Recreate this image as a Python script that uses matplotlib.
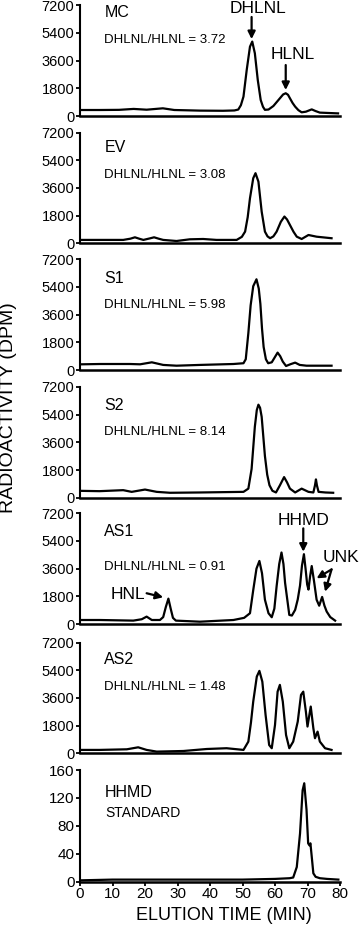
import matplotlib.pyplot as plt

plt.rcParams['font.family'] = ['Liberation Sans', 'DejaVu Sans']

# elution time (min) / radioactivity (DPM)
mc_t = [0.5, 6, 12, 16.5, 20.5, 25.5, 29, 37, 44, 47.5, 48.7, 49.5, 50.3, 51.3, 52.3, 53.0, 53.8, 54.7, 55.6,
        56.3, 56.9, 58.0, 59.5, 61.5, 62.5, 63.3, 64.0, 64.6, 65.4, 66.2, 67.2, 68.2, 69.5, 71.3, 72.5, 73.8, 76, 79.4]
mc_v = [390, 390, 400, 460, 410, 500, 390, 350, 340, 360, 420, 700, 1260, 3000, 4510, 4840, 4080, 2340, 1040,
        600, 400, 420, 650, 1150, 1400, 1480, 1380, 1150, 850, 610, 380, 240, 280, 430, 320, 220, 200, 170]

ev_t = [0.5, 8, 13.3, 15.5, 16.9, 18.2, 19.5, 21.5, 22.8, 24.2, 25.6, 29.7, 33.8, 37.9, 42, 48.2, 49.8, 50.8,
        51.6, 52.3, 53.3, 54.0, 54.9, 55.9, 56.9, 57.7, 58.5, 59.5, 60.5, 61.8, 62.9, 63.7, 64.6, 65.7, 66.7, 68.2,
        70.3, 72.8, 77.4]
ev_v = [220, 220, 220, 300, 390, 300, 220, 320, 390, 300, 220, 150, 260, 280, 220, 220, 420, 760,
        1700, 2930, 4230, 4560, 4010, 2060, 760, 450, 330, 450, 760, 1400, 1740, 1550, 1190, 750, 430, 280,
        540, 430, 330]

s1_t = [0.5, 6.2, 15.4, 18.5, 22.1, 25.6, 29.7, 36.9, 47.2, 50.3, 51.0, 51.8, 52.5, 53.3, 54.3, 55.0, 55.5,
        56.0, 56.5, 57.2, 57.9, 59.0, 60.0, 60.8, 61.6, 62.4, 63.4, 64.8, 66.2, 67.6, 69.7, 77.4]
s1_v = [370, 390, 390, 370, 500, 330, 280, 330, 390, 440, 700, 2400, 4200, 5450, 5900, 5300, 4300,
        2700, 1500, 700, 440, 500, 850, 1130, 900, 545, 260, 380, 480, 330, 280, 280]

s2_t = [0.5, 6, 13.3, 15.9, 20, 23.6, 27.7, 36.9, 50.3, 51.8, 52.8, 53.8, 54.4, 54.9, 55.4, 55.9, 56.9, 57.6,
        58.3, 59.2, 60.3, 61.5, 62.8, 63.7, 64.6, 66.2, 68.2, 70.3, 71.8, 72.3, 72.6, 72.9, 73.4, 75.5, 77.9]
s2_v = [445, 425, 490, 380, 530, 380, 320, 340, 380, 590, 1870, 4620, 5700, 6050, 5850, 5260, 2710, 1500,
        810, 450, 340, 800, 1340, 1000, 590, 340, 590, 380, 340, 800, 1190, 800, 380, 340, 320]

as1_t = [0.5, 6, 16.4, 19.0, 20.5, 22.1, 24.6, 25.6, 26.4, 27.2, 27.9, 28.6, 29.5, 36.9, 47.2, 50.5, 52.3,
         53.3, 54.3, 55.2, 56.0, 56.9, 58.0, 59.0, 59.8, 60.5, 61.3, 62.0, 62.6, 63.1, 64.4, 65.2, 66.2, 67.0,
         67.7, 68.3, 68.9, 69.4, 69.9, 70.3, 70.8, 71.3, 72.0, 72.8, 73.6, 74.5, 75.2, 75.9, 77.0, 78.5]
as1_v = [260, 260, 220, 310, 480, 260, 260, 450, 1100, 1650, 1000, 400, 220, 150, 260, 400, 700,
         2200, 3600, 4100, 3300, 1580, 700, 440, 1000, 2460, 3900, 4650, 3900, 2680, 590, 550, 920, 1600,
         2500, 3800, 4540, 3600, 2570, 2240, 3100, 3770, 2800, 1580, 1190, 1760, 1200, 810, 450, 220]

as2_t = [0.5, 6, 14.4, 17.9, 20.5, 23.6, 31.8, 39, 45.1, 50.3, 51.8, 52.6, 53.3, 54.4, 55.2, 56.1, 57.1, 58.2,
         59.0, 60.0, 60.8, 61.5, 62.4, 63.4, 64.4, 65.6, 67.0, 68.0, 68.7, 69.5, 70.0, 70.5, 71.0, 71.8, 72.3,
         73.1, 73.8, 75.4, 77.4]
as2_v = [220, 220, 260, 390, 220, 110, 150, 280, 330, 220, 760, 2000, 3360, 4990, 5360, 4660, 2500, 540,
         330, 1840, 4010, 4450, 3360, 1190, 330, 760, 2060, 3800, 4010, 2710, 1740, 2400, 3040, 1630, 980,
         1410, 760, 330, 220]

std_t = [0.5, 10, 20, 30, 40, 50, 60, 64.5, 65.6, 66.7, 67.7, 68.5, 69.0, 69.7, 70.2, 70.6, 70.9, 71.3,
         71.8, 72.5, 73.8, 76, 79.5]
std_v = [2, 3, 3, 3, 3, 3, 4, 5, 6, 21, 69, 131, 141, 103, 55, 52, 55, 36, 12, 7, 5, 4, 3]

names = ['MC', 'EV', 'S1', 'S2', 'AS1', 'AS2']
ratios = ['3.72', '3.08', '5.98', '8.14', '0.91', '1.48']
yticks = [0, 1800, 3600, 5400, 7200]
std_yticks = [0, 40, 80, 120, 160]
xticks = [0, 10, 20, 30, 40, 50, 60, 70, 80]

series = [(mc_t, mc_v), (ev_t, ev_v), (s1_t, s1_v), (s2_t, s2_v), (as1_t, as1_v), (as2_t, as2_v)]
# pixel row of the zero line for each panel (from top)
zero_rows = [116, 243.3, 370, 497.7, 624, 753.3]
name_y = [6730, 6230, 5960, 5980, 6000, 6130]
ratio_y = [4940, 4440, 4230, 4290, 3730, 4330]

W, H = 360, 930
fig = plt.figure(figsize=(W / 100, H / 100), dpi=100)

def style(ax):
    for s in ['top', 'right']:
        ax.spines[s].set_visible(False)
    ax.spines['left'].set_linewidth(1.5)
    ax.spines['bottom'].set_linewidth(1.8)
    ax.tick_params(axis='y', direction='out', length=3, width=1.3, pad=1, labelsize=10.5)

axes = []
for i in range(6):
    ax = fig.add_axes([80 / W, 1 - zero_rows[i] / H, 260 / W, 110.7 / H])
    t, v = series[i]
    ax.plot(t, v, color='black', lw=1.6, solid_joinstyle='round')
    ax.set_xlim(0, 80)
    ax.set_ylim(0, 7200)
    ax.set_yticks(yticks)
    ax.set_xticks([])
    style(ax)
    ax.text(7.5, name_y[i], names[i], fontsize=11.5, va='center', ha='left')
    ax.text(7.5, ratio_y[i], 'DHLNL/HLNL = ' + ratios[i], fontsize=9.5, va='center', ha='left')
    axes.append(ax)

# standard panel
ax = fig.add_axes([80 / W, 1 - 881.7 / H, 260 / W, 111.7 / H])
ax.plot(std_t, std_v, color='black', lw=1.6, solid_joinstyle='round')
ax.set_xlim(0, 80)
ax.set_ylim(0, 160)
ax.set_yticks(std_yticks)
ax.set_xticks(xticks)
style(ax)
ax.tick_params(axis='y', labelsize=11)
ax.tick_params(axis='x', direction='out', length=3, width=1.3, pad=1, labelsize=11)
ax.text(7.7, 128, 'HHMD', fontsize=11.5, va='center', ha='left')
ax.text(7.7, 99, 'STANDARD', fontsize=10, va='center', ha='left')

arrow = dict(arrowstyle='-|>', lw=1.6, color='black', mutation_scale=11, shrinkA=0, shrinkB=0)

# MC arrows
ax = axes[0]
ax.text(54.9, 6960, 'DHLNL', fontsize=12.5, ha='center', va='center')
ax.annotate('', xy=(52.8, 5000), xytext=(52.8, 6440), arrowprops=arrow)
ax.text(65.4, 4030, 'HLNL', fontsize=12.5, ha='center', va='center')
ax.annotate('', xy=(63.3, 1690), xytext=(63.3, 3315), arrowprops=arrow)

# AS1 arrows
ax = axes[4]
ax.text(68.9, 6760, 'HHMD', fontsize=12.5, ha='center', va='center')
ax.annotate('', xy=(68.7, 4700), xytext=(68.7, 6220), arrowprops=arrow)
ax.text(80.3, 4320, 'UNK', fontsize=12.5, ha='center', va='center', clip_on=False)
ax.annotate('', xy=(72.8, 2970), xytext=(77.4, 3550), arrowprops=arrow)
ax.annotate('', xy=(75.4, 2100), xytext=(77.4, 3550), arrowprops=arrow)
ax.text(14.6, 1950, 'HNL', fontsize=12.5, ha='center', va='center')
ax.annotate('', xy=(25.6, 1735), xytext=(20.5, 2000), arrowprops=arrow)

fig.text(9 / W, 1 - 408 / H, 'RADIOACTIVITY (DPM)', rotation=90, fontsize=14, ha='center', va='center')
fig.text(224 / W, 1 - 915 / H, 'ELUTION TIME (MIN)', fontsize=13, ha='center', va='center')

fig.savefig('out.png', dpi=100)
